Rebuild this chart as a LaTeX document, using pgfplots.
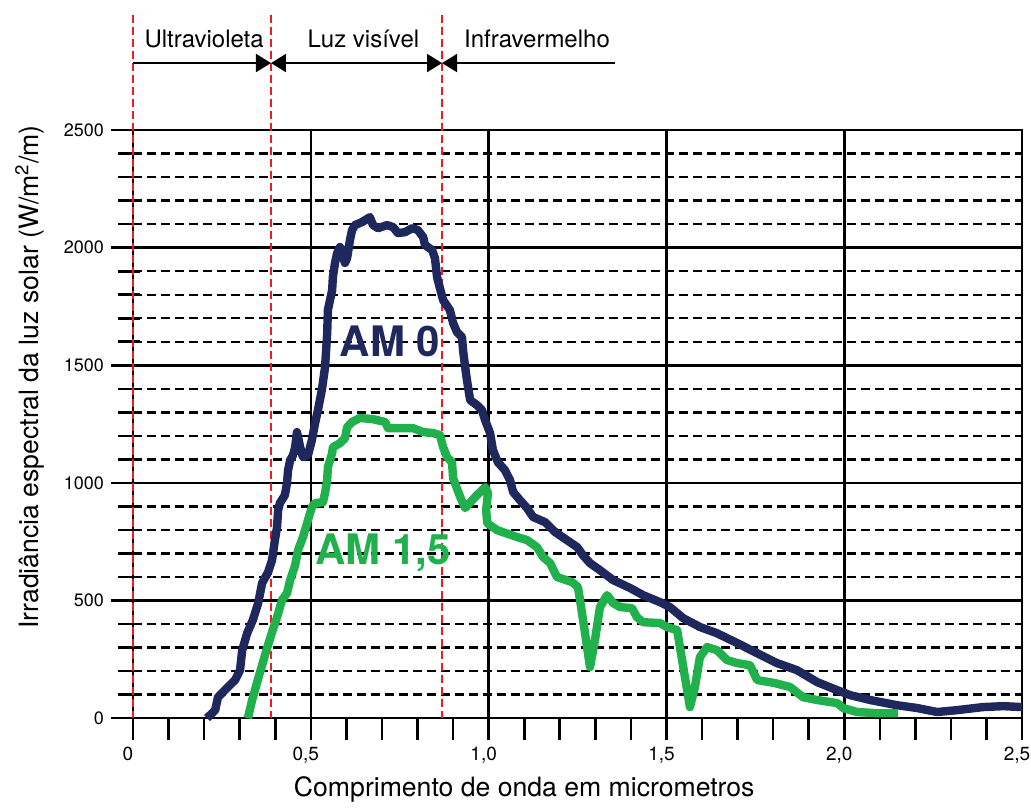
\documentclass[border=0pt]{standalone}
\usepackage{fontspec}
\setmainfont{TeX Gyre Heros}
\usepackage{pgfplots}
\pgfplotsset{compat=1.18}
\usetikzlibrary{arrows.meta}
\definecolor{am0}{RGB}{31,40,92}
\definecolor{am15}{RGB}{32,176,76}
\definecolor{faixa}{RGB}{237,28,36}

\begin{document}
\begin{tikzpicture}
\begin{axis}[
    scale only axis, width=444.5pt, height=294pt,
    xmin=0, xmax=2.5, ymin=0, ymax=2500,
    clip=false,
    axis line style={line width=1.3pt},
    xtick={0,0.5,1,1.5,2,2.5},
    xticklabels={0,{0,5},{1,0},{1,5},{2,0},{2,5}},
    ytick={0,500,1000,1500,2000,2500},
    yticklabels={0,500,1000,1500,2000,2500},
    minor x tick num=4, minor y tick num=4,
    tick pos=left, tick align=outside,
    major tick length=11pt, minor tick length=11pt,
    tick style={black, line width=1.3pt},
    minor y tick style={xshift=3.5pt},
    xmajorgrids, ymajorgrids, yminorgrids,
    major grid style={black, line width=1.3pt},
    minor grid style={black, line width=1.2pt, dash pattern=on 4.5pt off 2.5pt},
    x tick label style={font=\fontsize{9.5}{11}\selectfont, xshift=-2.5pt, inner xsep=0pt},
    y tick label style={font=\fontsize{9}{11}\selectfont},
    label style={font=\fontsize{13.3}{16}\selectfont},
    xlabel={Comprimento de onda em micrometros},
    ylabel={Irradiância espectral da luz solar (W/m\textsuperscript{2}/m)},
    xlabel style={at={(axis description cs:0.44,-0.122)}, anchor=center},
    ylabel style={at={(axis description cs:-0.116,0.58)}, anchor=center},
]
% caixa da figura
\path (axis cs:-0.374,-370) rectangle (axis cs:2.525,3053);

% faixas do espectro
\draw[faixa, line width=1pt, dash pattern=on 4pt off 2pt] (axis cs:0,2990) -- (axis cs:0,0);
\draw[faixa, line width=1pt, dash pattern=on 4pt off 2pt] (axis cs:0.388,2990) -- (axis cs:0.388,0);
\draw[faixa, line width=1pt, dash pattern=on 4pt off 2pt] (axis cs:0.869,2990) -- (axis cs:0.869,0);
\draw[line width=1pt, -{Triangle[length=7.5pt,width=9pt]}] (axis cs:0,2785) -- (axis cs:0.388,2785);
\draw[line width=1pt, {Triangle[length=7.5pt,width=9pt]}-{Triangle[length=7.5pt,width=9pt]}] (axis cs:0.388,2785) -- (axis cs:0.869,2785);
\draw[line width=1pt, {Triangle[length=7.5pt,width=9pt]}-] (axis cs:0.869,2785) -- (axis cs:1.355,2785);
\node[font=\fontsize{12}{14}\selectfont] at (axis cs:0.200,2889) {Ultravioleta};
\node[font=\fontsize{12}{14}\selectfont] at (axis cs:0.648,2889) {Luz visível};
\node[font=\fontsize{12}{14}\selectfont] at (axis cs:1.136,2889) {Infravermelho};

% AM 0
\addplot[am0, line width=4.2pt, line join=round] table {
x y
0.208 0
0.231 34
0.239 89
0.264 128
0.287 162
0.301 204
0.307 289
0.321 361
0.337 417
0.352 489
0.363 574
0.380 621
0.391 672
0.399 757
0.405 812
0.408 884
0.413 914
0.427 948
0.433 999
0.436 1054
0.442 1097
0.450 1118
0.456 1152
0.461 1216
0.470 1152
0.478 1110
0.492 1118
0.503 1182
0.512 1254
0.520 1310
0.531 1395
0.540 1492
0.546 1637
0.548 1735
0.560 1820
0.562 1875
0.568 1935
0.574 1977
0.582 2003
0.596 1935
0.602 1956
0.610 2032
0.616 2075
0.624 2096
0.644 2109
0.666 2130
0.675 2096
0.689 2083
0.714 2096
0.731 2088
0.745 2062
0.765 2066
0.785 2083
0.801 2075
0.816 2045
0.821 2011
0.841 1990
0.849 1956
0.855 1875
0.863 1828
0.872 1777
0.891 1735
0.900 1680
0.911 1641
0.925 1620
0.928 1565
0.934 1492
0.939 1437
0.948 1352
0.967 1331
0.981 1310
0.990 1267
1.004 1212
1.012 1140
1.026 1088
1.046 1054
1.060 1012
1.069 961
1.088 927
1.108 893
1.125 855
1.159 833
1.187 791
1.220 757
1.249 727
1.265 693
1.285 659
1.313 629
1.350 587
1.398 553
1.434 523
1.482 493
1.510 472
1.547 425
1.595 387
1.642 361
1.699 319
1.755 276
1.811 234
1.867 204
1.924 153
1.980 119
2.016 98
2.073 77
2.148 55
2.205 43
2.261 26
2.317 34
2.390 47
2.447 51
2.500 47
};

% AM 1,5
\addplot[am15, line width=4.2pt, line join=round] table {
x y
0.323 0
0.335 77
0.349 153
0.363 225
0.377 298
0.391 366
0.405 429
0.419 502
0.433 531
0.442 587
0.456 651
0.464 714
0.478 770
0.492 842
0.503 897
0.512 914
0.534 918
0.540 957
0.546 1012
0.548 1067
0.560 1127
0.562 1152
0.582 1169
0.596 1190
0.602 1237
0.616 1259
0.638 1276
0.675 1271
0.709 1259
0.717 1233
0.751 1233
0.787 1233
0.816 1216
0.844 1212
0.863 1203
0.872 1152
0.883 1110
0.897 1088
0.900 1020
0.920 940
0.934 893
0.962 940
0.990 982
0.998 957
0.993 884
0.996 829
1.024 799
1.080 770
1.108 757
1.136 727
1.153 685
1.173 659
1.192 600
1.235 578
1.251 557
1.257 502
1.271 361
1.285 217
1.299 332
1.313 472
1.333 523
1.350 489
1.370 472
1.403 468
1.417 429
1.434 408
1.482 404
1.502 387
1.530 374
1.544 247
1.566 47
1.580 132
1.594 259
1.614 302
1.642 289
1.670 247
1.699 234
1.735 225
1.755 162
1.805 149
1.848 132
1.884 89
1.924 77
1.980 64
1.997 43
2.036 26
2.092 21
2.151 21
};

\node[am0, font=\bfseries\fontsize{21}{24}\selectfont] at (axis cs:0.723,1601) {AM 0};
\node[am15, font=\bfseries\fontsize{21}{24}\selectfont] at (axis cs:0.703,702) {AM 1,5};
\end{axis}
\end{tikzpicture}
\end{document}
